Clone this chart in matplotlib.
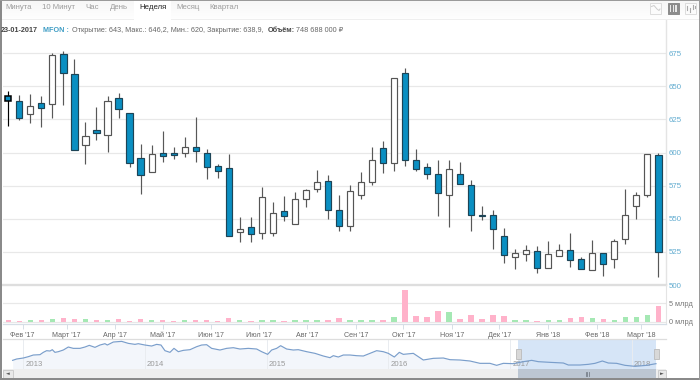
import numpy as np
import pandas as pd
import matplotlib
matplotlib.use("Agg")
import matplotlib.pyplot as plt
from matplotlib.patches import Rectangle

plt.rcParams['font.family'] = ['Liberation Sans', 'DejaVu Sans']

# ---------- data ----------
first_week = "2017-01-23"
open_vals = [643, 638.8, 628.7, 637, 636.3, 674, 658.9, 605.9, 617.2, 613.2,
             640.8, 629.7, 595.6, 585.5, 599.8, 599.8, 599.6, 604.1, 599.8, 589.5,
             588.5, 539.7, 544, 539, 539, 555.6, 545.8, 564.6, 572.6, 578.4,
             556.5, 544.2, 568.3, 577.9, 603.3, 592.2, 660, 594.7, 588.9, 583.9,
             568, 583.4, 575.6, 552.8, 553, 537, 520.8, 523.1, 525.4, 512.5,
             522.1, 526.6, 519.8, 511.5, 523.9, 519.8, 534.9, 560, 568, 598]
close_vals = [638.9, 625.7, 635.3, 633.8, 673.7, 660.2, 601.6, 612.6, 615, 639,
              632.8, 592.3, 583.2, 598.6, 597, 597.8, 604.4, 600.8, 589.3, 585.8,
              536.7, 542, 538.2, 566.6, 554.3, 552.3, 564.6, 572, 577.9, 556.3,
              544.4, 570.6, 577.4, 594.7, 591.7, 656, 594.2, 587.9, 584.1, 569.1,
              587.7, 575.9, 552.5, 552.2, 542, 522.3, 523.9, 526.1, 512.5, 523.1,
              526.6, 518.6, 511.8, 523.9, 515.6, 532.9, 553.2, 568.3, 598.5, 525]
high_vals = [646.2, 643.3, 644, 642.6, 675, 676.8, 670.2, 622.7, 634, 642.6,
             645, 630, 606.4, 606, 616, 604, 612, 626.5, 603, 591.3,
             599, 551.6, 551, 574.2, 562.6, 567.4, 570.4, 572.7, 586.7, 582.7,
             567.6, 575.6, 585, 603.8, 608.5, 656, 663.6, 602.3, 591.7, 594.7,
             594, 592.5, 579.6, 559.6, 556.5, 543, 526.9, 530.1, 529.4, 533.2,
             530.9, 539.4, 520.8, 533.9, 523.9, 534.7, 572.1, 570.1, 598.5, 600]
low_vals = [620, 624.5, 622, 619.4, 626.2, 635.8, 601.6, 591.5, 609.4, 600.3,
            625.7, 589.3, 568.7, 585.5, 592.5, 595.3, 596.8, 593, 579.7, 581,
            536.7, 532.2, 532.7, 535, 537.2, 548.5, 545.8, 559, 570, 549.7,
            540.9, 540.9, 564.8, 575.1, 584.7, 585.7, 590, 586.2, 580.1, 552.2,
            543.4, 575.9, 540.7, 549.2, 527.1, 516.8, 512.3, 518.3, 509.3, 512.5,
            522.1, 513.8, 511.8, 511, 507, 513, 531.3, 549.5, 566.6, 506]
volume_bln = [0.55, 0.3, 0.35, 0.35, 0.75, 1.1, 0.65, 0.75, 0.4, 0.55,
              0.75, 0.3, 0.65, 0.4, 0.55, 0.08, 0.55, 0.6, 0.4, 0.1,
              1.1, 0.4, 0.2, 0.55, 0.4, 0.3, 0.4, 0.55, 0.55, 0.4,
              1.0, 0.55, 0.55, 0.55, 0.4, 1.4, 8.7, 1.5, 1.4, 2.9,
              2.7, 0.85, 1.95, 0.65, 1.75, 1.5, 0.55, 0.55, 0.3, 0.4,
              0.55, 0.95, 1.2, 0.95, 0.65, 0.55, 1.2, 1.2, 1.75, 4.35]
price_ticks = [500, 525, 550, 575, 600, 625, 650, 675]
volume_ticks = [0, 5]
volume_tick_labels = ["0 млрд", "5 млрд"]
month_starts = ["2017-02-01", "2017-03-01", "2017-04-01", "2017-05-01", "2017-06-01",
                "2017-07-01", "2017-08-01", "2017-09-01", "2017-10-01", "2017-11-01",
                "2017-12-01", "2018-01-01", "2018-02-01", "2018-03-01"]
month_labels = ["Фев '17", "Март '17", "Апр '17", "Май '17", "Июн '17", "Июл '17", "Авг '17",
                "Сен '17", "Окт '17", "Ноя '17", "Дек '17", "Янв '18", "Фев '18", "Март '18"]
tab_labels = ["Минута", "10 Минут", "Час", "День", "Неделя", "Месяц", "Квартал"]
nav_days = [-32, -20, 0, 15, 30, 50, 60, 70, 80, 87, 95, 105, 120, 135, 150, 170, 185, 198, 215,
            230, 245, 252, 270, 295, 315, 335, 345, 365, 385, 400, 413, 425, 440, 452, 465, 480,
            500, 520, 535, 550, 565, 590, 610, 630, 650, 675, 700, 715, 733, 745, 760, 772, 790,
            810, 825, 850, 875, 900, 920, 930, 945, 960, 980, 1000, 1020, 1040, 1060, 1080, 1095,
            1113, 1128, 1140, 1170, 1200, 1230, 1260, 1280, 1310, 1340, 1370, 1400, 1420, 1440,
            1470, 1500, 1525, 1545, 1580, 1620, 1635, 1670, 1695, 1715, 1737, 1755, 1780, 1805,
            1835, 1870, 1898]
nav_level = [26, 30, 33, 37, 42, 43, 50, 55, 54, 58, 50, 52, 57, 66, 62, 62, 66, 71, 65,
             72, 76, 72, 81, 83, 77, 74, 76, 72, 69, 74, 72, 55, 50, 62, 52, 56,
             58, 67, 72, 73, 62, 57, 62, 64, 60, 62, 60, 52, 44, 57, 62, 70, 60,
             57, 58, 52, 47, 39, 34, 40, 36, 42, 42, 40, 39, 47, 55, 52, 47,
             36, 50, 44, 47, 27, 32, 33, 28, 27, 24, 17, 17, 11, 17,
             16, 22, 26, 22, 20, 18, 12, 12, 14, 17, 24, 18, 17, 11,
             8, 11, 16]
nav_years = [2013, 2014, 2015, 2016, 2017, 2018]

# ---------- figure & helpers (pixel geometry, 700 x 380) ----------
W, H = 700, 380
fig = plt.figure(figsize=(7, 3.8), dpi=100, facecolor="white")


def ax_px(x0, y0, x1, y1, **kw):
    return fig.add_axes([x0 / W, 1 - y1 / H, (x1 - x0) / W, (y1 - y0) / H], **kw)


def fig_rect(x0, y0, x1, y1, **kw):
    kw.setdefault("linewidth", 0)
    fig.add_artist(Rectangle((x0 / W, 1 - y1 / H), (x1 - x0) / W, (y1 - y0) / H,
                             transform=fig.transFigure, **kw))


def fig_text(x, y, s, **kw):
    kw.setdefault("va", "center")
    return fig.text(x / W, 1 - y / H, s, **kw)


def fig_line(xs, ys, **kw):
    fig.add_artist(plt.Line2D([x / W for x in xs], [1 - y / H for y in ys],
                              transform=fig.transFigure, **kw))


dates = pd.date_range(first_week, periods=len(open_vals), freq="7D")
xs = matplotlib.dates.date2num(dates)
xlim = (xs[0] - 3.2, xs[-1] + 4.8)
o, c, h, l = map(np.array, (open_vals, close_vals, high_vals, low_vals))
up = c >= o
BLUE = "#0a8fc2"
GRID = "#e8e8e8"

# ---------- toolbar ----------
for i in range(19):
    shade = 0.965 + 0.03 * i / 18
    fig_rect(0, i, W, i + 1, facecolor=(shade, shade, shade))
fig_rect(0, 18.5, W, 20, facecolor="#efefef")
fig_rect(134, 0, 171, 20, facecolor="white")
tab_x = [18.5, 58.5, 92.5, 119, 152.5, 188, 224.5]
for tx, lab in zip(tab_x, tab_labels):
    fig_text(tx, 7.6, lab, ha="center", fontsize=5.6,
             color="#222222" if lab == "Неделя" else "#9c9c9c")

# chart-type icons
for bx, active in ((650, False), (667.5, True), (685, False)):
    fig_rect(bx, 3, bx + 11, 13.5, facecolor="#8c8c8c" if active else "#fbfbfb",
             edgecolor="#8c8c8c" if active else "#dddddd", linewidth=0.7)
fig_line([651.5, 654, 657, 659, 660], [6.5, 5.5, 9, 10.5, 9], color="#cccccc", lw=0.7)
for bx in (669.8, 672.6, 675.4):
    fig_rect(bx, 4.5, bx + 1.5, 11.5, facecolor="#e8e8e8")
for bx, y0, y1 in ((687, 6, 10), (690, 8, 12), (693, 5, 9), (695, 6, 8)):
    fig_line([bx, bx], [y0, y1], color="#aaaaaa", lw=0.8)

# ---------- header ----------
renderer = fig.canvas.get_renderer()
cursor = 1.0
for part, col, wt in (("23-01-2017", "#444444", "bold"), ("  ", "#444444", "normal"),
                      ("MFON :", "#3d9cc4", "bold"), (" ", "#666666", "normal"),
                      ("Открытие: 643, Макс.: 646,2, Мин.: 620, Закрытие: 638,9, ", "#666666", "normal"),
                      ("Объём:", "#444444", "bold"), (" 748 688 000 ₽", "#666666", "normal")):
    t = fig_text(cursor, 31.6, part, fontsize=5.25, color=col, fontweight=wt, ha="left", va="baseline")
    if part.strip():
        cursor = t.get_window_extent(renderer).x1
        if part.endswith(" "):
            cursor += 2.0
    else:
        cursor += 2.6 * len(part)

# ---------- price panel ----------
ax = ax_px(3.3, 20, 666, 285)
ax.set_xlim(xlim)
ax.set_ylim(500, 700)
ax.set_yticks(price_ticks)
ax.grid(axis="y", color=GRID, lw=0.9)
ax.set_axisbelow(True)
ax.set_xticks([])
ax.yaxis.tick_right()
ax.tick_params(axis="y", length=0, pad=2, labelsize=5.7, labelcolor="#62acd0")
for s in ("left", "top", "bottom"):
    ax.spines[s].set_visible(False)
ax.spines["right"].set_color("#e4e4e4")
ax.spines["right"].set_linewidth(1.0)

wick_c = ["#000000" if i == 0 else "#585858" for i in range(len(xs))]
ax.vlines(xs, l, h, colors=wick_c, lw=0.85, zorder=2)
lw_body = [1.1 if i == 0 else 0.85 for i in range(len(xs))]
edge = ["#000000" if i == 0 else ("#555555" if up[i] else "#1d4456") for i in range(len(xs))]
ax.bar(xs, np.maximum(np.abs(c - o), 0.3), bottom=np.minimum(o, c), width=3.9,
       color=["white" if u else BLUE for u in up], edgecolor=edge, linewidth=lw_body, zorder=3)

# ---------- volume panel ----------
vx = ax_px(3.3, 285, 666, 324.3)
vx.set_xlim(xlim)
vx.set_ylim(-0.71, 10.03)
vx.bar(xs, volume_bln, width=3.5, color=["#a5e8b4" if u else "#ffb2ca" for u in up], zorder=3)
vx.set_yticks(volume_ticks, volume_tick_labels)
vx.yaxis.tick_right()
vx.grid(axis="y", color=GRID, lw=0.9)
vx.set_axisbelow(True)
vx.axhline(10.03, color="#dedede", lw=1.7, zorder=1, clip_on=False)
vx.tick_params(axis="y", length=0, pad=2, labelsize=5.3, labelcolor="#777777")
vx.set_xticks(matplotlib.dates.date2num(pd.to_datetime(month_starts)), month_labels)
vx.tick_params(axis="x", length=3.6, width=0.7, color="#d6dee6", pad=1.8,
               labelsize=5.1, labelcolor="#666666")
for s in ("left", "top"):
    vx.spines[s].set_visible(False)
vx.spines["right"].set_color("#e4e4e4")
vx.spines["bottom"].set_color("#d6dee6")
vx.spines["bottom"].set_linewidth(0.9)

# ---------- navigator ----------
year0 = pd.Timestamp("2013-01-01")
nav = ax_px(3.3, 338.7, 666, 369)
nav.set_xlim(-60, 1928)
nav.set_ylim(0, 91)
nav.set_xticks([])
nav.set_yticks([])
for s in ("left", "right", "bottom"):
    nav.spines[s].set_visible(False)
nav.spines["top"].set_color("#dddddd")
nav.spines["top"].set_linewidth(0.9)
nav.fill_between(nav_days, nav_level, 0, color="#f3f6fb", lw=0, zorder=1)
sel0 = (pd.Timestamp(first_week) - year0).days
sel1 = nav_days[-1]
nav.axvspan(sel0, sel1, color="#d6e5f7", lw=0, zorder=1.5)
for y in nav_years:
    d = (pd.Timestamp(f"{y}-01-01") - year0).days
    nav.axvline(d, color="#e9ecf0", lw=0.7, zorder=2)
    nav.annotate(str(y), (d, 0), xytext=(1.4, 3.0), textcoords="offset points",
                 fontsize=5.6, color="#9a9a9a", va="center", zorder=4)
nav.plot(nav_days, nav_level, color="#7a9ecb", lw=0.85, zorder=5)

# scrollbar
sb = ax_px(3.3, 369, 666, 378)
sb.set_xlim(-60, 1928)
sb.set_ylim(0, 1)
sb.axis("off")
sb.axvspan(-60, 1928, color="#eeeeee", lw=0)
sb.axvspan(sel0, sel1, color="#bcc6d2", lw=0)
fig_rect(3.3, 369.5, 12.5, 377.5, facecolor="#e8e8e8", edgecolor="#cccccc", linewidth=0.7)
fig_rect(658, 369.5, 666, 377.5, facecolor="#e8e8e8", edgecolor="#cccccc", linewidth=0.7)
fig_text(7.7, 373.5, "◄", fontsize=3.5, ha="center", color="#555555", family="DejaVu Sans")
fig_text(662, 373.5, "►", fontsize=3.5, ha="center", color="#555555", family="DejaVu Sans")
for gx in (585.5, 587.3, 589.1):
    fig_line([gx, gx], [371.5, 375.5], color="#777f88", lw=0.6)

# navigator handles
for hx in (518.3, 656.7):
    fig_rect(hx - 2.5, 349, hx + 2.5, 359, facecolor="#d8d8d8", edgecolor="#bbbbbb", linewidth=0.6)

# outer frame
fig_rect(0, 0, 1.5, H, facecolor="#8a8a8a")
fig_rect(0, 0, W, 0.8, facecolor="#9a9a9a")
fig_rect(0, 378, W, H, facecolor="#8a8a8a")
fig_rect(699, 0, W, H, facecolor="#9a9a9a")

fig.savefig("out.png", dpi=100)
